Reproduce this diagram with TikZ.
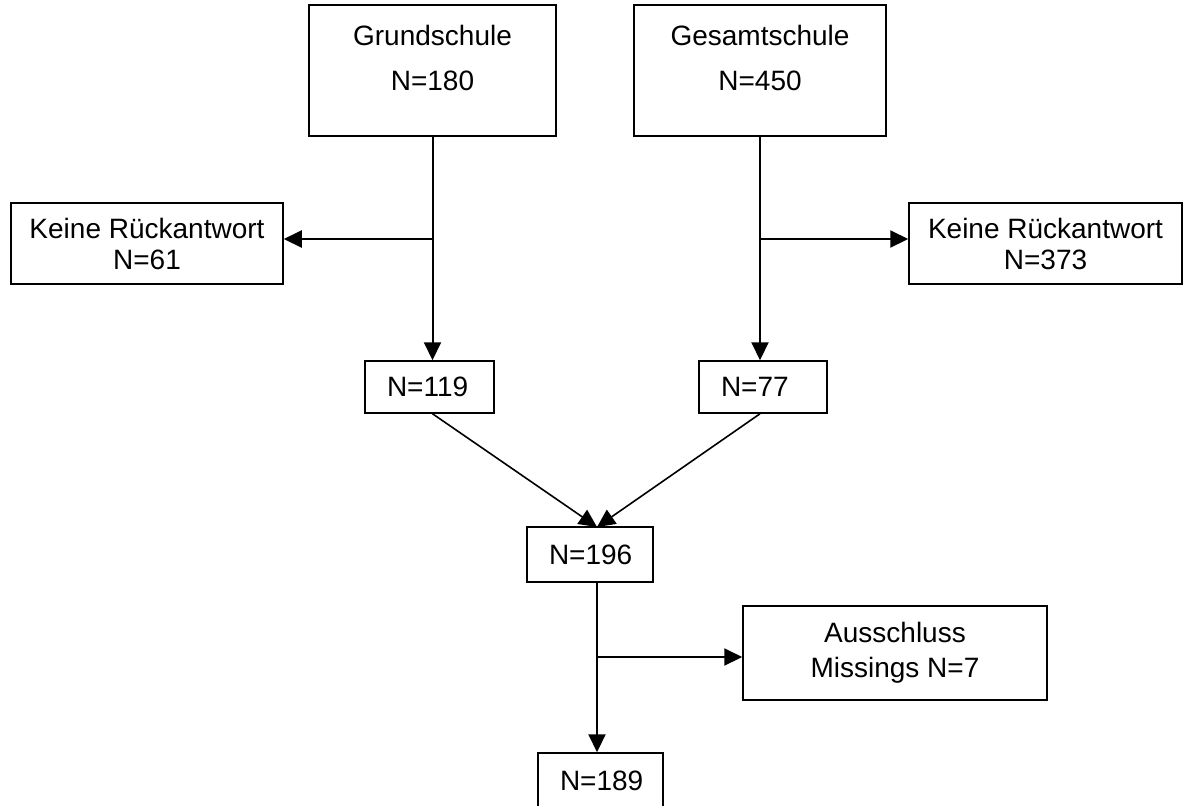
\documentclass[tikz,border=0pt]{standalone}
\usepackage{fontspec}
\setmainfont{Liberation Sans}
\usetikzlibrary{arrows.meta}
\tikzset{
  kasten/.style={draw, line width=0.75pt, inner sep=0pt},
  zahl/.style={kasten, minimum height=26pt, inner xsep=11pt, align=left, text width=#1},
  pfeil/.style={line width=1pt, -{Triangle[length=9pt,width=8.5pt]}},
  linie/.style={line width=1pt}
}
\begin{document}
\begin{tikzpicture}[x=0.5pt,y=-0.5pt, font=\fontsize{14}{15.5}\selectfont]
                \useasboundingbox (0,0) rectangle (1183,805);
                % Schulen
                \node[kasten, minimum width=123.5pt, minimum height=65.5pt] (gs) at (432.5,70.5) {};
                \node[align=center] (gstxt) at (432.5,57.5) {Grundschule\\[7pt]N=180};
                \node[kasten, minimum width=126pt, minimum height=65.5pt] (ge) at (760,70.5) {};
                \node[align=center] (getxt) at (760,57.5) {Gesamtschule\\[7pt]N=450};
                % Ruecklauf
                \node[kasten, minimum width=136pt, minimum height=40.5pt, align=center] (kl) at (147,243.5) {Keine Rückantwort\\N=61};
                \node[kasten, minimum width=136.5pt, minimum height=40.5pt, align=center] (kr) at (1045.5,243.5) {Keine Rückantwort\\N=373};
                \node[zahl=42.5pt] (n119) at (429.5,387) {N=119};
                \node[zahl=42pt] (n77) at (763,387) {N=77};
                \node[zahl=41pt, minimum height=27.5pt] (n196) at (590,554.5) {N=196};
                \node[kasten, minimum width=152pt, minimum height=47pt, align=center] (aus) at (895,653) {Ausschluss\\[2pt]Missings N=7};
                \node[zahl=40.5pt, minimum height=28pt] (n189) at (600.5,781) {N=189};
                % Verzweigungen
                \coordinate (gsab) at (432.5,239);
                \coordinate (geab) at (760,239);
                \coordinate (mitte) at (597,527);
                \coordinate (ausab) at (597,657);
                % Pfeile
                \draw[pfeil] (gs.south) -- (gs.south |- n119.north);
                \draw[pfeil] (gsab) -- (gsab -| kl.east);
                \draw[pfeil] (ge.south) -- (ge.south |- n77.north);
                \draw[pfeil] (geab) -- (geab -| kr.west);
                \draw[pfeil, line width=0.8pt] (gs.south |- n119.south) -- (mitte);
                \draw[pfeil, line width=0.8pt] (ge.south |- n77.south) -- (mitte);
                \draw[pfeil] (mitte |- n196.south) -- (mitte |- n189.north);
                \draw[pfeil] (ausab) -- (ausab -| aus.west);
            \end{tikzpicture}
\end{document}
